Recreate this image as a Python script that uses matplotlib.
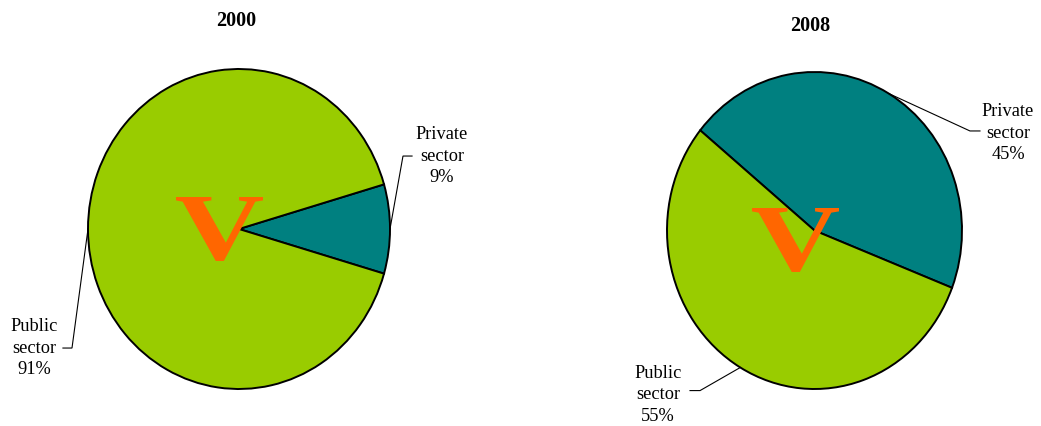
import numpy as np
import matplotlib
matplotlib.use("Agg")
import matplotlib.pyplot as plt
from matplotlib.textpath import TextPath
from matplotlib.patches import PathPatch
from matplotlib.font_manager import FontProperties
from matplotlib.transforms import Affine2D

# data
years = ["2000", "2008"]
sectors = ["Private\nsector", "Public\nsector"]
shares_2000 = [9, 91]
shares_2008 = [45, 55]
colors = ["#008080", "#99CC00"]

W, H = 1041, 427
fig = plt.figure(figsize=(W / 100, H / 100), dpi=100)
fig.patch.set_facecolor("white")

serif = "Liberation Serif"


def px_box(x0, y0, x1, y1):
    # pixel box (top-left origin) -> figure fraction [l, b, w, h]
    return [x0 / W, (H - y1) / H, (x1 - x0) / W, (y1 - y0) / H]


def pie_panel(box, values, start, title, title_xy, label_pos, elbows):
    ax = fig.add_axes(px_box(*box))
    wedges, _ = ax.pie(values, colors=colors, startangle=start, counterclock=True,
                       radius=1, wedgeprops=dict(edgecolor="black", linewidth=1.4))
    ax.set_xlim(-1, 1)
    ax.set_ylim(-1, 1)
    ax.set_aspect("auto")
    ax.axis("off")
    for w, name, val, tpos, (ex0, ex1, ey) in zip(wedges, sectors, values, label_pos, elbows):
        mid = np.deg2rad((w.theta1 + w.theta2) / 2)
        ax_pt = (np.cos(mid), np.sin(mid))
        ax.plot([ax_pt[0], ex0, ex1], [ax_pt[1], ey, ey], color="black", lw=0.8,
                clip_on=False, solid_joinstyle="miter")
        ax.text(tpos[0], tpos[1], f"{name}\n{val}%", ha="center", va="center",
                fontsize=13.2, family=serif, linespacing=1.35, clip_on=False)
    fig.text(title_xy[0] / W, 1 - title_xy[1] / H, title, ha="center", va="center",
             fontsize=14.5, fontweight="bold", family=serif)
    return ax


# 2000 panel
pie_panel((88, 70, 390, 390), shares_2000, -shares_2000[0] * 3.6 / 2, years[0], (236, 21),
          [(1.344, 0.462), (-1.358, -0.74)],
          [(1.086, 1.146, 0.456), (-1.106, -1.166, -0.744)])

# 2008 panel
pie_panel((667, 73, 962, 390), shares_2008, 59.8 - shares_2008[0] * 3.6 / 2, years[1], (810, 26),
          [(1.312, 0.621), (-1.061, -1.03)],
          [(1.054, 1.122, 0.628), (-0.776, -0.844, -1.01)])

# orange "V" watermarks
vpath = TextPath((0, 0), "V", size=1, prop=FontProperties(family=serif, weight="bold"))
ext = vpath.get_extents()
for (x0, y0, x1, y1) in [(176, 198, 263, 262), (752, 209, 839, 273)]:
    sx = (x1 - x0) / ext.width
    sy = (y1 - y0) / ext.height
    tr = (Affine2D().translate(-ext.x0, -ext.y0).scale(sx, sy)
          .translate(x0, H - y1).scale(1 / W, 1 / H) + fig.transFigure)
    patch = PathPatch(vpath, transform=tr, facecolor="#FF6600", edgecolor="none", zorder=5)
    fig.add_artist(patch)

fig.savefig("out.png", dpi=100, facecolor="white")
